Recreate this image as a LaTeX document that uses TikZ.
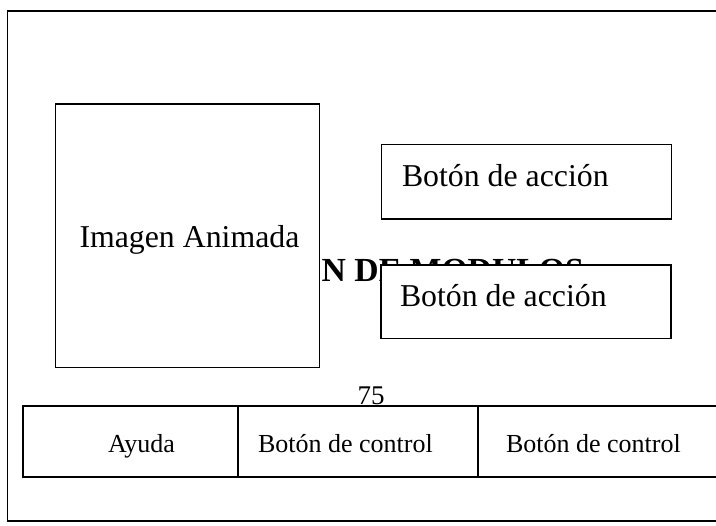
\documentclass[tikz,border=0pt]{standalone}
\usepackage{fontspec}
\setmainfont{Liberation Serif}
\begin{document}
\begin{tikzpicture}[x=1pt,y=-1pt,
  box/.style={draw=black,fill=white,inner sep=0pt,outer sep=0pt,anchor=north west},
  lbl/.style={inner sep=0pt,outer sep=0pt,anchor=base west},
  big/.style={font=\fontsize{31.8}{36}\selectfont},
  small/.style={font=\fontsize{26}{30}\selectfont}]
\useasboundingbox (0,0) rectangle (716,526);
\clip (0,0) rectangle (716,526);
% outer frame
\node[box,line width=1.3pt,minimum width=730pt,minimum height=510pt] (frame) at (7.8,11) {};
% heading text partly hidden
\node[lbl,font=\fontsize{33.7}{38}\selectfont\bfseries] (title) at (321.7,282) {N DE MODULOS};
% page number
\node[lbl,font=\fontsize{27}{30}\selectfont] (page) at (357.5,405) {75};
% image box
\node[box,line width=1.5pt,minimum width=263.8pt,minimum height=263.6pt] (img) at (55.7,104) {};
\node[lbl,big] (imgt) at (79.5,248) {Imagen Animada};
% action buttons
\node[box,line width=1.2pt,minimum width=289.5pt,minimum height=74.3pt] (act1) at (381.7,144.7) {};
\node[lbl,big] (act1t) at (402,187) {Botón de acción};
\node[box,line width=1.2pt,minimum width=290pt,minimum height=73.5pt] (act2) at (381,265) {};
\node[lbl,big] (act2t) at (400,307) {Botón de acción};
% bottom bar
\node[box,line width=2pt,minimum width=720pt,minimum height=71pt] (bar) at (23,406) {};
\coordinate (d1t) at (238,406);
\coordinate (d1b) at (238,477);
\coordinate (d2t) at (478,406);
\coordinate (d2b) at (478,477);
\draw[line width=1.3pt] (d1t) -- (d1b);
\draw[line width=1.3pt] (d2t) -- (d2b);
\node[lbl,small] (help) at (108,453) {Ayuda};
\node[lbl,small] (ctl1) at (258,453) {Botón de control};
\node[lbl,small] (ctl2) at (506,453) {Botón de control};
\end{tikzpicture}
\end{document}
